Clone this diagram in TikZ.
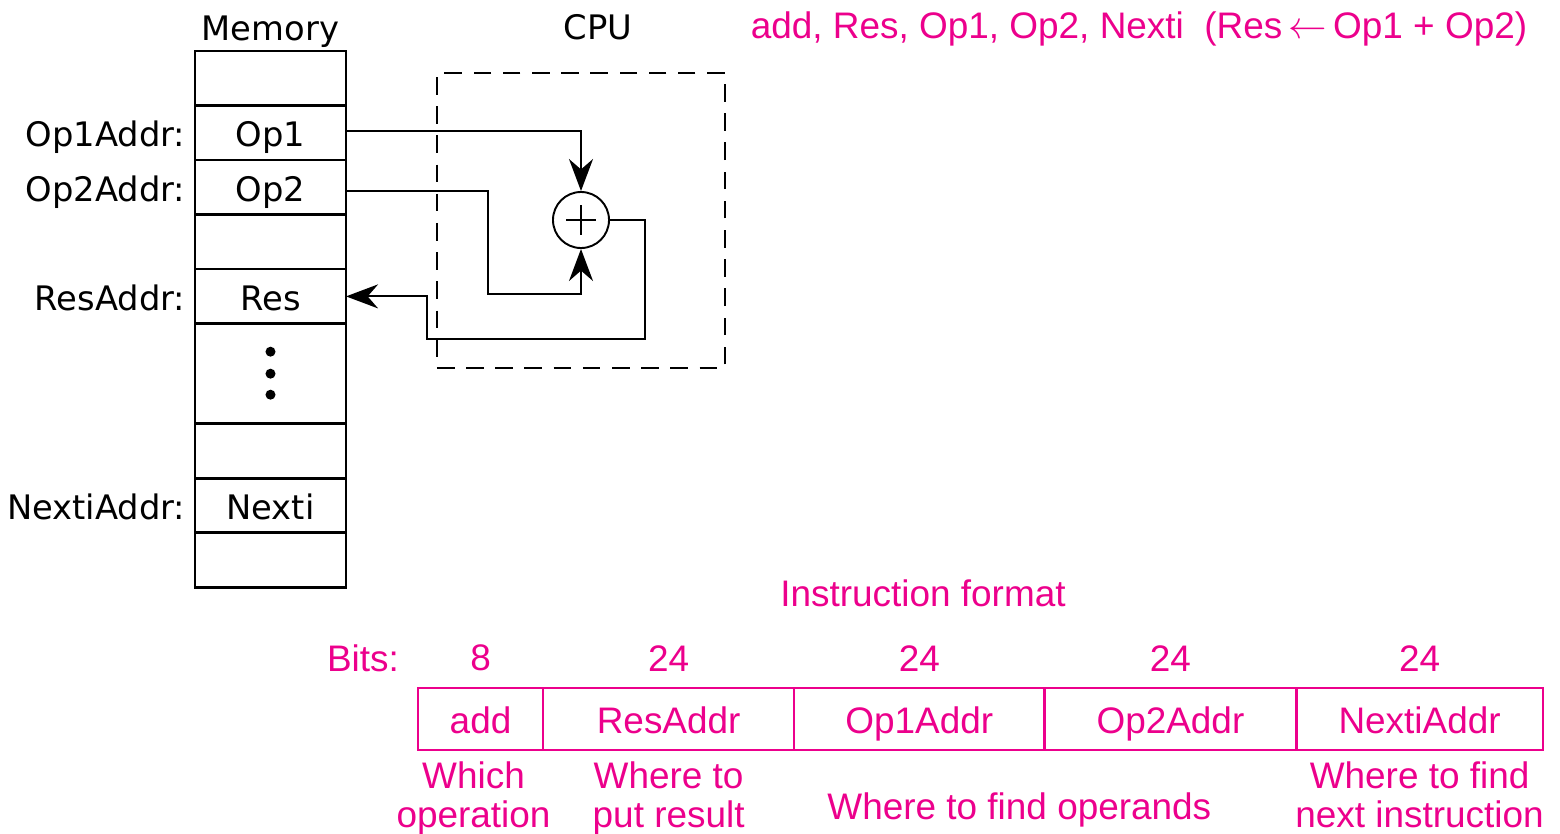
\documentclass[tikz,border=0pt]{standalone}
\usepackage{fontspec}
\setmainfont{Liberation Sans}
\newfontfamily\memfont{DejaVu Sans}
\usetikzlibrary{arrows.meta, positioning, shapes.geometric, fit}
\definecolor{fmtpink}{RGB}{236,0,140}

\begin{document}
\begin{tikzpicture}[
    x=0.01cm, y=-0.01cm,
    cell/.style={draw, line width=0.75pt, minimum width=1.51cm, minimum height=0.545cm, inner sep=0pt, outer sep=0pt, text height=0.9em, text depth=0.1em, font=\memfont\fontsize{9.6}{11}\selectfont},
    addr/.style={inner sep=0pt, text height=0.9em, text depth=0.1em, font=\memfont\fontsize{9.6}{11}\selectfont},
    field/.style={draw=fmtpink, line width=0.65pt, minimum height=0.62cm, inner sep=0pt, outer sep=0pt, text height=0.9em, text depth=0.1em, text=fmtpink, font=\fontsize{10.5}{11}\selectfont},
    note/.style={inner sep=0pt, align=center, text=fmtpink, font=\fontsize{10.5}{11}\selectfont},
    arrow/.style={-{Stealth[length=3.2mm, width=2.4mm]}, line width=0.55pt},
    dashedbox/.style={draw, line width=0.6pt, dash pattern=on 5pt off 3.3pt, minimum width=2.88cm, minimum height=2.95cm, inner sep=0pt}
]
\useasboundingbox (0,0) rectangle (1560,833);

% Memory column
\node[cell, anchor=north] (m0) at (270.5,51) {};
\node[cell, below=0pt of m0] (m1) {Op1};
\node[cell, below=0pt of m1] (m2) {Op2};
\node[cell, below=0pt of m2] (m3) {};
\node[cell, below=0pt of m3] (m4) {Res};
\node[cell, below=0pt of m4, minimum height=1.0cm] (m5) {};
\node[cell, below=0pt of m5] (m6) {};
\node[cell, below=0pt of m6] (m7) {Nexti};
\node[cell, below=0pt of m7] (m8) {};
\foreach \dy in {-22,0,21}
    \fill (m5.center) ++(0,\dy) circle (0.5mm);

\node[addr, above=0.06cm of m0] (memlabel) {Memory};
\node[addr, left=0.09cm of m1] (op1addr) {Op1Addr:};
\node[addr, left=0.09cm of m2] (op2addr) {Op2Addr:};
\node[addr, left=0.09cm of m4] (resaddr) {ResAddr:};
\node[addr, left=0.09cm of m7] (nextiaddr) {NextiAddr:};

% CPU
\node[dashedbox] (cpu) at (581,220.5) {};
\node[addr] (cpulabel) at (598,25) {CPU};
\node[draw, circle, line width=0.55pt, minimum size=0.56cm, inner sep=0pt] (adder) at (581,220) {};
\draw[line width=0.55pt] (adder.center) ++(-15,0) -- ++(30,0);
\draw[line width=0.55pt] (adder.center) ++(0,-15) -- ++(0,30);

\coordinate (bend2) at (488,294);
\coordinate (back) at (645,339);
\coordinate (jog) at (427,339);

\draw[arrow] ([yshift=0.015cm]m1.east) -| (adder.north);
\draw[arrow] ([yshift=-0.035cm]m2.east) -| (bend2) -| (adder.south);
\draw[arrow] (adder.east) -| (back) -- (jog) |- (m4.east);

% Instruction format
\node[note] (instr) at (1139,29) {add, Res, Op1, Op2, Nexti~~(Res\,$\leftarrow$\,Op1 + Op2)};
\node[note] (fmtlabel) at (923,593) {Instruction format};

\node[field, minimum width=1.25cm, anchor=north west] (fadd) at (418,688) {add};
\node[field, minimum width=2.51cm, right=0pt of fadd] (fres) {ResAddr};
\node[field, minimum width=2.50cm, right=0pt of fres] (fop1) {Op1Addr};
\node[field, minimum width=2.52cm, right=0pt of fop1] (fop2) {Op2Addr};
\node[field, minimum width=2.46cm, right=0pt of fop2] (fnext) {NextiAddr};

\node[note, above=0.16cm of fadd] (bit1) {8};
\node[note, above=0.16cm of fres] (bit2) {24};
\node[note, above=0.16cm of fop1] (bit3) {24};
\node[note, above=0.16cm of fop2] (bit4) {24};
\node[note, above=0.16cm of fnext] (bit5) {24};
\node[note, left=0.7cm of bit1] (bits) {Bits:};

\node[note, below=0.11cm of fadd, xshift=-0.07cm] (whichop) {Which\\operation};
\node[note, below=0.11cm of fres] (whereres) {Where to\\put result};
\node[note, below=0.42cm of fop1.south east, xshift=-0.25cm] (whereops) {Where to find operands};
\node[note, below=0.11cm of fnext] (wherenext) {Where to find\\next instruction};

\end{tikzpicture}
\end{document}
